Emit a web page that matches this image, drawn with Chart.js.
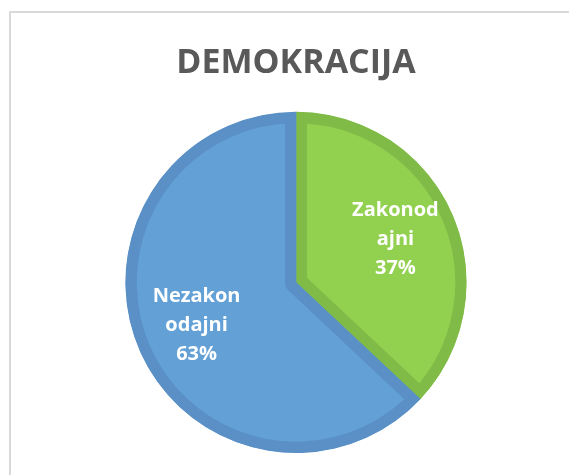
<!DOCTYPE html>
<html>
<head>
<meta charset="utf-8">
<script src="https://cdn.jsdelivr.net/npm/chart.js@4/dist/chart.umd.min.js"></script>
<style>
    html, body { margin: 0; padding: 0; background: #fff; overflow: hidden; }
    #wrap { position: relative; width: 569px; height: 475px; overflow: hidden; }
    #frame { position: absolute; left: 9px; top: 11px; width: 620px; height: 520px;
             border: 2px solid #d9d9d9; box-sizing: border-box; }
    #pieChart { position: absolute; left: 0; top: 0; }
</style>
</head>
<body>
<div id="wrap">
    <div id="frame"></div>
    <canvas id="pieChart" width="569" height="475"></canvas>
</div>
<script>
// ---------------- DATA ----------------
const chartTitle = "DEMOKRACIJA";
const categories = ["Zakonodajni", "Nezakonodajni"];
const labelLines = [["Zakonod", "ajni"], ["Nezakon", "odajni"]];
const values = [37, 63];
const fillColors = ["#92d050", "#62a0d6"];
const borderColors = ["#80bb48", "#5a90c5"];

// ---------------- LABELS INSIDE SLICES ----------------
const sliceLabels = {
    id: "sliceLabels",
    afterDatasetsDraw(chart) {
        const ctx = chart.ctx;
        const meta = chart.getDatasetMeta(0);
        const total = values.reduce((a, b) => a + b, 0);

        ctx.save();
        ctx.fillStyle = "#ffffff";
        ctx.font = "bold 20px 'Open Sans'";
        ctx.textAlign = "center";
        ctx.textBaseline = "middle";

        meta.data.forEach((arc, i) => {
            const p = arc.getProps(["x", "y", "startAngle", "endAngle", "outerRadius"], true);
            const mid = (p.startAngle + p.endAngle) / 2;
            const r = p.outerRadius * 0.635;
            const cx = p.x + Math.cos(mid) * r;
            const cy = p.y + Math.sin(mid) * r;
            const lines = labelLines[i].concat([Math.round(values[i] / total * 100) + "%"]);
            const step = 29;
            lines.forEach((txt, k) => {
                ctx.fillText(txt, cx, cy + (k - (lines.length - 1) / 2) * step);
            });
        });
        ctx.restore();
    }
};

// ---------------- CHART ----------------
new Chart(document.getElementById("pieChart"), {
    type: "pie",
    data: {
        labels: categories,
        datasets: [{
            data: values,
            backgroundColor: fillColors,
            borderColor: borderColors,
            borderWidth: 11,
            borderAlign: "inner"
        }]
    },
    options: {
        responsive: false,
        devicePixelRatio: 1,
        animation: false,
        layout: {
            padding: { top: 0, bottom: 22, left: 125, right: 102 }
        },
        plugins: {
            legend: { display: false },
            tooltip: { enabled: false },
            title: {
                display: true,
                text: chartTitle,
                color: "#595959",
                font: { family: "'Open Sans'", size: 34, weight: "bold", lineHeight: 1.2 },
                padding: { top: 43, bottom: 28 }
            }
        }
    },
    plugins: [sliceLabels]
});
</script>
</body>
</html>
